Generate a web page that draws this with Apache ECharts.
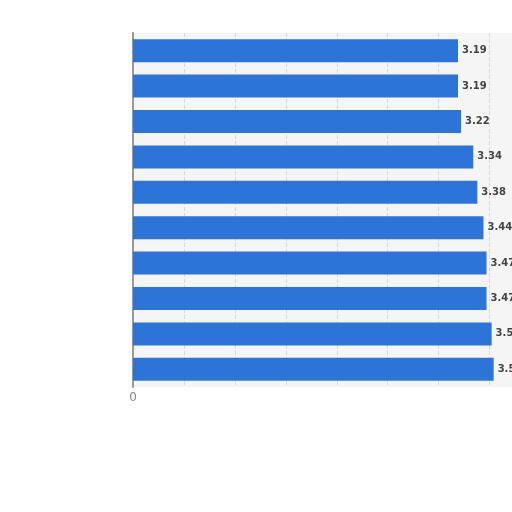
<!DOCTYPE html>
<html><head><meta charset="utf-8">
<script src="https://cdn.jsdelivr.net/npm/echarts@6/dist/echarts.min.js"></script>
<style>html,body{margin:0;padding:0;background:#fff}#c{width:512px;height:512px}</style>
</head><body><div id="c"></div>
<script>
var categories = ['1','2','3','4','5','6','7','8','9','10'];
var values = [3.19, 3.19, 3.22, 3.34, 3.38, 3.44, 3.47, 3.47, 3.52, 3.54];
var chart = echarts.init(document.getElementById('c'));
chart.setOption({
  animation: false,
  grid: {left: 133, top: 33, right: 0, height: 354, show: true, backgroundColor: '#f5f5f5', borderWidth: 0},
  xAxis: {
    type: 'value', min: 0, max: 3.72, interval: 0.5,
    axisLine: {show: false}, axisTick: {show: false},
    splitLine: {show: true, lineStyle: {color: '#d8d8d8', type: 'dashed', width: 1}},
    axisLabel: {color: '#888', fontSize: 12, margin: 5, fontFamily: 'DejaVu Sans', showMaxLabel: false,
      formatter: function (v) { return v === 0 ? '0' : ''; }}
  },
  yAxis: {
    type: 'category', data: categories, inverse: true,
    axisLine: {show: true, lineStyle: {color: '#999', width: 2}},
    axisTick: {show: false}, axisLabel: {show: false}
  },
  series: [{
    type: 'bar', data: values, barCategoryGap: '35%',
    itemStyle: {color: '#2c74d8'},
    label: {show: true, position: 'right', distance: 4, color: '#444', fontWeight: 'bold', fontSize: 10, fontFamily: 'DejaVu Sans',
      formatter: function (p) { return p.value.toFixed(2); }}
  }]
});
</script></body></html>
